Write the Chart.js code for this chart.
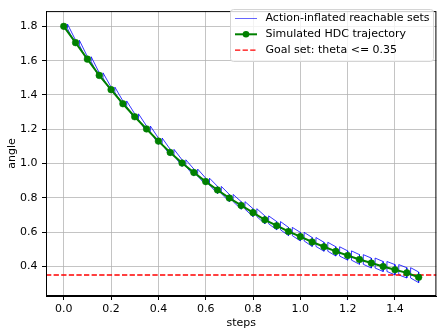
<!DOCTYPE html>
<html>
<head>
<meta charset="utf-8">
<script src="https://cdn.jsdelivr.net/npm/chart.js@4/dist/chart.umd.min.js"></script>
<style>
  html, body { margin: 0; padding: 0; background: #fff; overflow: hidden; }
  #wrap { width: 438px; height: 335px; overflow: hidden; }
  canvas { display: block; }
</style>
</head>
<body>
<div id="wrap"><canvas id="c" width="441" height="335"></canvas></div>
<script>
// ---- data ----
const steps = [0.00, 0.05, 0.10, 0.15, 0.20, 0.25, 0.30, 0.35, 0.40, 0.45,
               0.50, 0.55, 0.60, 0.65, 0.70, 0.75, 0.80, 0.85, 0.90, 0.95,
               1.00, 1.05, 1.10, 1.15, 1.20, 1.25, 1.30, 1.35, 1.40, 1.45, 1.50];
const theta = [1.800, 1.705, 1.609, 1.514, 1.431, 1.349, 1.273, 1.202, 1.131, 1.065,
               1.003, 0.948, 0.895, 0.846, 0.799, 0.756, 0.714, 0.672, 0.638, 0.604,
               0.574, 0.543, 0.515, 0.488, 0.464, 0.441, 0.420, 0.400, 0.381, 0.363, 0.337];
const reachLow  = [1.787, 1.691, 1.595, 1.499, 1.416, 1.333, 1.256, 1.185, 1.113, 1.047,
                   0.984, 0.928, 0.875, 0.825, 0.778, 0.734, 0.691, 0.649, 0.614, 0.580,
                   0.549, 0.517, 0.489, 0.461, 0.437, 0.413, 0.391, 0.371, 0.351, 0.333, 0.306];
const reachHigh = [1.813, 1.719, 1.623, 1.529, 1.446, 1.365, 1.290, 1.219, 1.149, 1.083,
                   1.022, 0.968, 0.915, 0.867, 0.820, 0.778, 0.737, 0.695, 0.662, 0.628,
                   0.599, 0.569, 0.541, 0.515, 0.491, 0.469, 0.449, 0.429, 0.411, 0.393, 0.368];
const goalTheta = 0.35;
const xTicks = [0.0, 0.2, 0.4, 0.6, 0.8, 1.0, 1.2, 1.4];
const yTicks = [0.4, 0.6, 0.8, 1.0, 1.2, 1.4, 1.6, 1.8];
const xLimits = [-0.075, 1.575];
const yLimits = [0.228, 1.889];
const legendLabels = ['Action-inflated reachable sets', 'Simulated HDC trajectory', 'Goal set: theta <= 0.35'];

// ---- styles ----
const BLUE = 'rgba(0,0,255,0.8)';
const GREEN = '#008000';
const RED = '#ff0000';
const FONT = '"DejaVu Sans", sans-serif';
const FS = 11;
const BOX_GAP = 0.016;   // visual gap between consecutive reachable-set boxes (x units)

const datasets = [];
datasets.push({
  label: legendLabels[1],
  data: steps.map((s, i) => ({x: s, y: theta[i]})),
  borderColor: GREEN, backgroundColor: GREEN, borderWidth: 2,
  pointRadius: 3.3, pointBorderWidth: 0.6, pointBackgroundColor: GREEN, pointBorderColor: GREEN,
  tension: 0, fill: false, order: 0
});
datasets.push({
  label: legendLabels[2],
  data: [{x: xLimits[0], y: goalTheta}, {x: xLimits[1], y: goalTheta}],
  borderColor: RED, borderWidth: 1.45, borderDash: [5.3, 2.3],
  pointRadius: 0, tension: 0, fill: false, order: 1
});
for (let k = 0; k < steps.length - 1; k++) {
  const x0 = steps[k] + BOX_GAP, x1 = steps[k + 1];
  datasets.push({
    label: k === 0 ? legendLabels[0] : '',
    data: [
      {x: x0, y: reachLow[k]}, {x: x0, y: reachHigh[k]},
      {x: x1, y: reachHigh[k + 1]}, {x: x1, y: reachLow[k + 1]},
      {x: x0, y: reachLow[k]}
    ],
    borderColor: BLUE, borderWidth: 1, pointRadius: 0, tension: 0, fill: false, order: 2
  });
}

const framePlugin = {
  id: 'frame',
  afterDatasetsDraw(chart) {
    const {ctx, chartArea: a} = chart;
    ctx.save();
    ctx.strokeStyle = '#000';
    ctx.lineWidth = 1;
    ctx.strokeRect(a.left + 0.5, a.top + 0.5, a.right - a.left - 1, a.bottom - a.top - 1);
    ctx.restore();
  }
};

const legendPlugin = {
  id: 'mplLegend',
  afterDraw(chart) {
    const ctx = chart.ctx;
    const bx = 230.5, by = 9.5, bw = 203, bh = 52;
    ctx.save();
    const r = 3;
    ctx.beginPath();
    ctx.moveTo(bx + r, by);
    ctx.lineTo(bx + bw - r, by); ctx.arcTo(bx + bw, by, bx + bw, by + r, r);
    ctx.lineTo(bx + bw, by + bh - r); ctx.arcTo(bx + bw, by + bh, bx + bw - r, by + bh, r);
    ctx.lineTo(bx + r, by + bh); ctx.arcTo(bx, by + bh, bx, by + bh - r, r);
    ctx.lineTo(bx, by + r); ctx.arcTo(bx, by, bx + r, by, r);
    ctx.closePath();
    ctx.fillStyle = 'rgba(255,255,255,0.8)';
    ctx.fill();
    ctx.strokeStyle = '#d4d4d4';
    ctx.lineWidth = 1;
    ctx.stroke();

    const rows = [18.5, 34.3, 50.1];
    const hx0 = 235, hx1 = 257, tx = 265.5;
    ctx.strokeStyle = 'rgba(0,0,255,0.6)'; ctx.lineWidth = 1; ctx.setLineDash([]);
    ctx.beginPath(); ctx.moveTo(hx0, rows[0]); ctx.lineTo(hx1, rows[0]); ctx.stroke();
    ctx.strokeStyle = GREEN; ctx.lineWidth = 2;
    ctx.beginPath(); ctx.moveTo(hx0, rows[1]); ctx.lineTo(hx1, rows[1]); ctx.stroke();
    ctx.fillStyle = GREEN;
    ctx.beginPath(); ctx.arc((hx0 + hx1) / 2, rows[1], 3.3, 0, Math.PI * 2); ctx.fill();
    ctx.strokeStyle = RED; ctx.lineWidth = 1.45; ctx.setLineDash([5.3, 2.3]);
    ctx.beginPath(); ctx.moveTo(hx0, rows[2]); ctx.lineTo(hx1, rows[2]); ctx.stroke();
    ctx.setLineDash([]);

    ctx.fillStyle = '#000';
    ctx.font = FS + 'px ' + FONT;
    ctx.textBaseline = 'middle';
    ctx.textAlign = 'left';
    legendLabels.forEach((t, i) => ctx.fillText(t, tx, rows[i]));
    ctx.restore();
  }
};

new Chart(document.getElementById('c'), {
  type: 'line',
  data: { datasets },
  options: {
    responsive: false,
    animation: false,
    devicePixelRatio: 1,
    events: [],
    layout: { padding: { top: 3, right: 1, left: 0, bottom: 0 } },
    plugins: { legend: { display: false }, tooltip: { enabled: false } },
    scales: {
      x: {
        type: 'linear',
        min: xLimits[0], max: xLimits[1],
        afterBuildTicks: (s) => { s.ticks = xTicks.map(v => ({value: v})); },
        afterFit: (s) => { s.height = 39; },
        grid: { color: 'rgba(176,176,176,0.75)', lineWidth: 1, tickColor: '#000', tickLength: 4, drawTicks: true },
        border: { display: true, color: '#000', width: 1 },
        ticks: { autoSkip: false, maxRotation: 0, padding: 2.7, color: '#000',
                 font: { family: FONT, size: FS }, callback: (v) => Number(v).toFixed(1) },
        title: { display: true, text: 'steps', color: '#000', font: { family: FONT, size: FS },
                 padding: { top: 0, bottom: 5.7 } }
      },
      y: {
        type: 'linear',
        min: yLimits[0], max: yLimits[1],
        afterBuildTicks: (s) => { s.ticks = yTicks.map(v => ({value: v})); },
        afterFit: (s) => { s.width = 46; },
        grid: { color: 'rgba(176,176,176,0.75)', lineWidth: 1, tickColor: '#000', tickLength: 4, drawTicks: true },
        border: { display: true, color: '#000', width: 1 },
        ticks: { autoSkip: false, padding: 4.5, color: '#000',
                 font: { family: FONT, size: FS }, callback: (v) => Number(v).toFixed(1) },
        title: { display: true, text: 'angle', color: '#000', font: { family: FONT, size: FS },
                 padding: { top: 5.4, bottom: 0 } }
      }
    }
  },
  plugins: [framePlugin, legendPlugin]
});
</script>
</body>
</html>
